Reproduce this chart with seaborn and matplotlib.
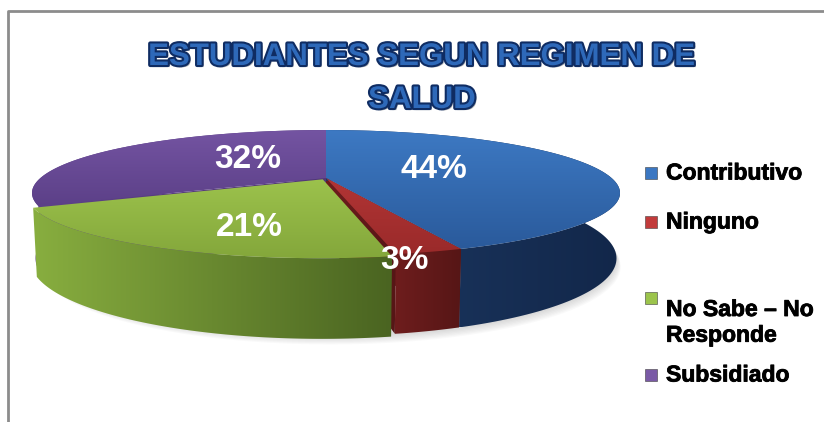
import numpy as np
import matplotlib
matplotlib.use('Agg')
import matplotlib.pyplot as plt
import matplotlib.patheffects as pe
from matplotlib import font_manager
from matplotlib.colors import LinearSegmentedColormap
from matplotlib.patches import Polygon, Rectangle
import seaborn as sns

# data
categories = ['Contributivo', 'Ninguno', 'No Sabe – No\nResponde', 'Subsidiado']
percent = [44, 3, 21, 32]
exploded = [0, 0, 1, 0]

# styles
top_colors = [('#3d79c3', '#2a5a9b'), ('#b23535', '#9a2a2a'),
              ('#9cc24c', '#84a73b'), ('#7454a2', '#5c4088')]
side_colors = [('#1d3963', '#12274a'), ('#6e1d1d', '#561616'),
               ('#88ae3f', '#4a6421'), ('#5e4289', '#513777')]
legend_colors = ['#3b77c2', '#c23b3b', '#9cc44c', '#7a5aa6']
label_r = [0.39, 0.80, 0.50, 0.34]
label_dy = [-4, 27, 18, -8]

sns.set_theme(style='white')
names = {f.name for f in font_manager.fontManager.ttflist}
narrow = 'Liberation Sans Narrow' if 'Liberation Sans Narrow' in names else 'Liberation Sans'
plt.rcParams['font.family'] = ['Liberation Sans', 'DejaVu Sans']

fig = plt.figure(figsize=(8.24, 4.22), dpi=100)
ax = fig.add_axes([0, 0, 1, 1])

# simple perspective for the 3d pie (pixel space)
cx, cy = 326, 178
tilt = np.radians(12)
D, F, H = 4.108, 1173, 0.225
EXPL = 0.025


def proj(x, z, y=0.0):
    c, s = np.cos(tilt), np.sin(tilt)
    d = D + z * c - y * s
    return np.column_stack([cx + F * x / d, cy - F * (y * c + z * s) / d])


zc = [0]


def gfill(pts, c1, c2, horizontal=False):
    zc[0] += 1
    poly = Polygon(pts, closed=True, facecolor='none', edgecolor='none', zorder=zc[0])
    ax.add_patch(poly)
    cmap = LinearSegmentedColormap.from_list('g', [c1, c2])
    grad = np.linspace(0, 1, 256)
    img = grad[None, :] if horizontal else grad[:, None]
    im = ax.imshow(img, cmap=cmap, aspect='auto', zorder=zc[0], interpolation='bilinear',
                   extent=[pts[:, 0].min(), pts[:, 0].max(), pts[:, 1].max(), pts[:, 1].min()])
    im.set_clip_path(poly)


fr = np.array(percent) / sum(percent)
bounds = 90 - 360 * np.concatenate([[0], np.cumsum(fr)])

# soft shadow under the pie
t_all = np.radians(np.linspace(0, 360, 300))
for k in range(1, 8):
    b = proj(np.cos(t_all), np.sin(t_all), -H)
    b[:, 1] += k * 1.2
    b[:, 0] += k * 0.6
    zc[0] += 1
    ax.add_patch(Polygon(b, closed=True, facecolor='#808080', edgecolor='none', alpha=0.045, zorder=zc[0]))

slices = []
for i in range(len(percent)):
    a0, a1 = bounds[i], bounds[i + 1]
    m = np.radians((a0 + a1) / 2)
    ox = EXPL * np.cos(m) * exploded[i]
    oz = EXPL * np.sin(m) * exploded[i]
    th = np.radians(np.linspace(a0, a1, 120))
    top = np.vstack([proj(np.array([ox]), np.array([oz])),
                     proj(ox + np.cos(th), oz + np.sin(th))])
    rim = np.vstack([proj(ox + np.cos(th), oz + np.sin(th)),
                     proj(ox + np.cos(th), oz + np.sin(th), -H)[::-1]])
    faces = []
    for a in (a0, a1):
        ar = np.radians(a)
        xs = np.array([ox, ox + np.cos(ar), ox + np.cos(ar), ox])
        zs = np.array([oz, oz + np.sin(ar), oz + np.sin(ar), oz])
        ys = np.array([0, 0, -H, -H])
        faces.append(proj(xs, zs, ys))
    slices.append((i, top, rim, faces))

fixed = [s for s in slices if not exploded[s[0]]]
moved = [s for s in slices if exploded[s[0]]]
for i, top, rim, faces in fixed:
    for f in faces:
        gfill(f, side_colors[i][0], side_colors[i][1], horizontal=True)
for i, top, rim, faces in fixed:
    gfill(rim, side_colors[i][0], side_colors[i][1], horizontal=True)
for i, top, rim, faces in fixed:
    gfill(top, top_colors[i][0], top_colors[i][1])
for i, top, rim, faces in moved:
    gfill(rim, side_colors[i][0], side_colors[i][1], horizontal=True)
    gfill(top, top_colors[i][0], top_colors[i][1])

# percentage labels
for i in range(len(percent)):
    m = np.radians((bounds[i] + bounds[i + 1]) / 2)
    off = EXPL * exploded[i]
    p = proj(np.array([(label_r[i] + off) * np.cos(m)]), np.array([(label_r[i] + off) * np.sin(m)]))[0]
    ax.text(p[0], p[1] + label_dy[i], f'{percent[i]}%', ha='center', va='center',
            color='white', fontsize=24, fontweight='bold', family=[narrow, 'DejaVu Sans'], zorder=200)

# title
title_fx = [pe.SimplePatchShadow(offset=(1.5, -1.5), shadow_rgbFace='#606060', alpha=0.5),
            pe.Stroke(linewidth=3, foreground='#0f2c62'), pe.Normal()]
ax.text(422, 57, 'ESTUDIANTES SEGUN REGIMEN DE', ha='center', va='center', fontsize=22.5,
        fontweight='bold', color='#2e69b9', path_effects=title_fx, zorder=200)
ax.text(422, 100, 'SALUD', ha='center', va='center', fontsize=22.5,
        fontweight='bold', color='#2e69b9', path_effects=title_fx, zorder=200)

# legend
leg_y = [173, 222, 298, 375]
for i, cat in enumerate(categories):
    ax.add_patch(Rectangle((645, leg_y[i] - 6), 12, 12, facecolor=legend_colors[i],
                           edgecolor='#404040', linewidth=0.4, zorder=200))
    ax.text(666, leg_y[i], cat, ha='left', va='top' if '\n' in cat else 'center',
            fontsize=16.5, fontweight='bold', color='black', linespacing=1.15, zorder=200,
            path_effects=[pe.Stroke(linewidth=0.6, foreground='black'), pe.Normal()])

# chart area border
ax.plot([8, 8, 824], [422, 11, 11], color='#8c8c8c', linewidth=2, solid_capstyle='butt', zorder=300)

ax.set_xlim(0, 824)
ax.set_ylim(422, 0)
ax.axis('off')
fig.savefig('out.png', dpi=100)
